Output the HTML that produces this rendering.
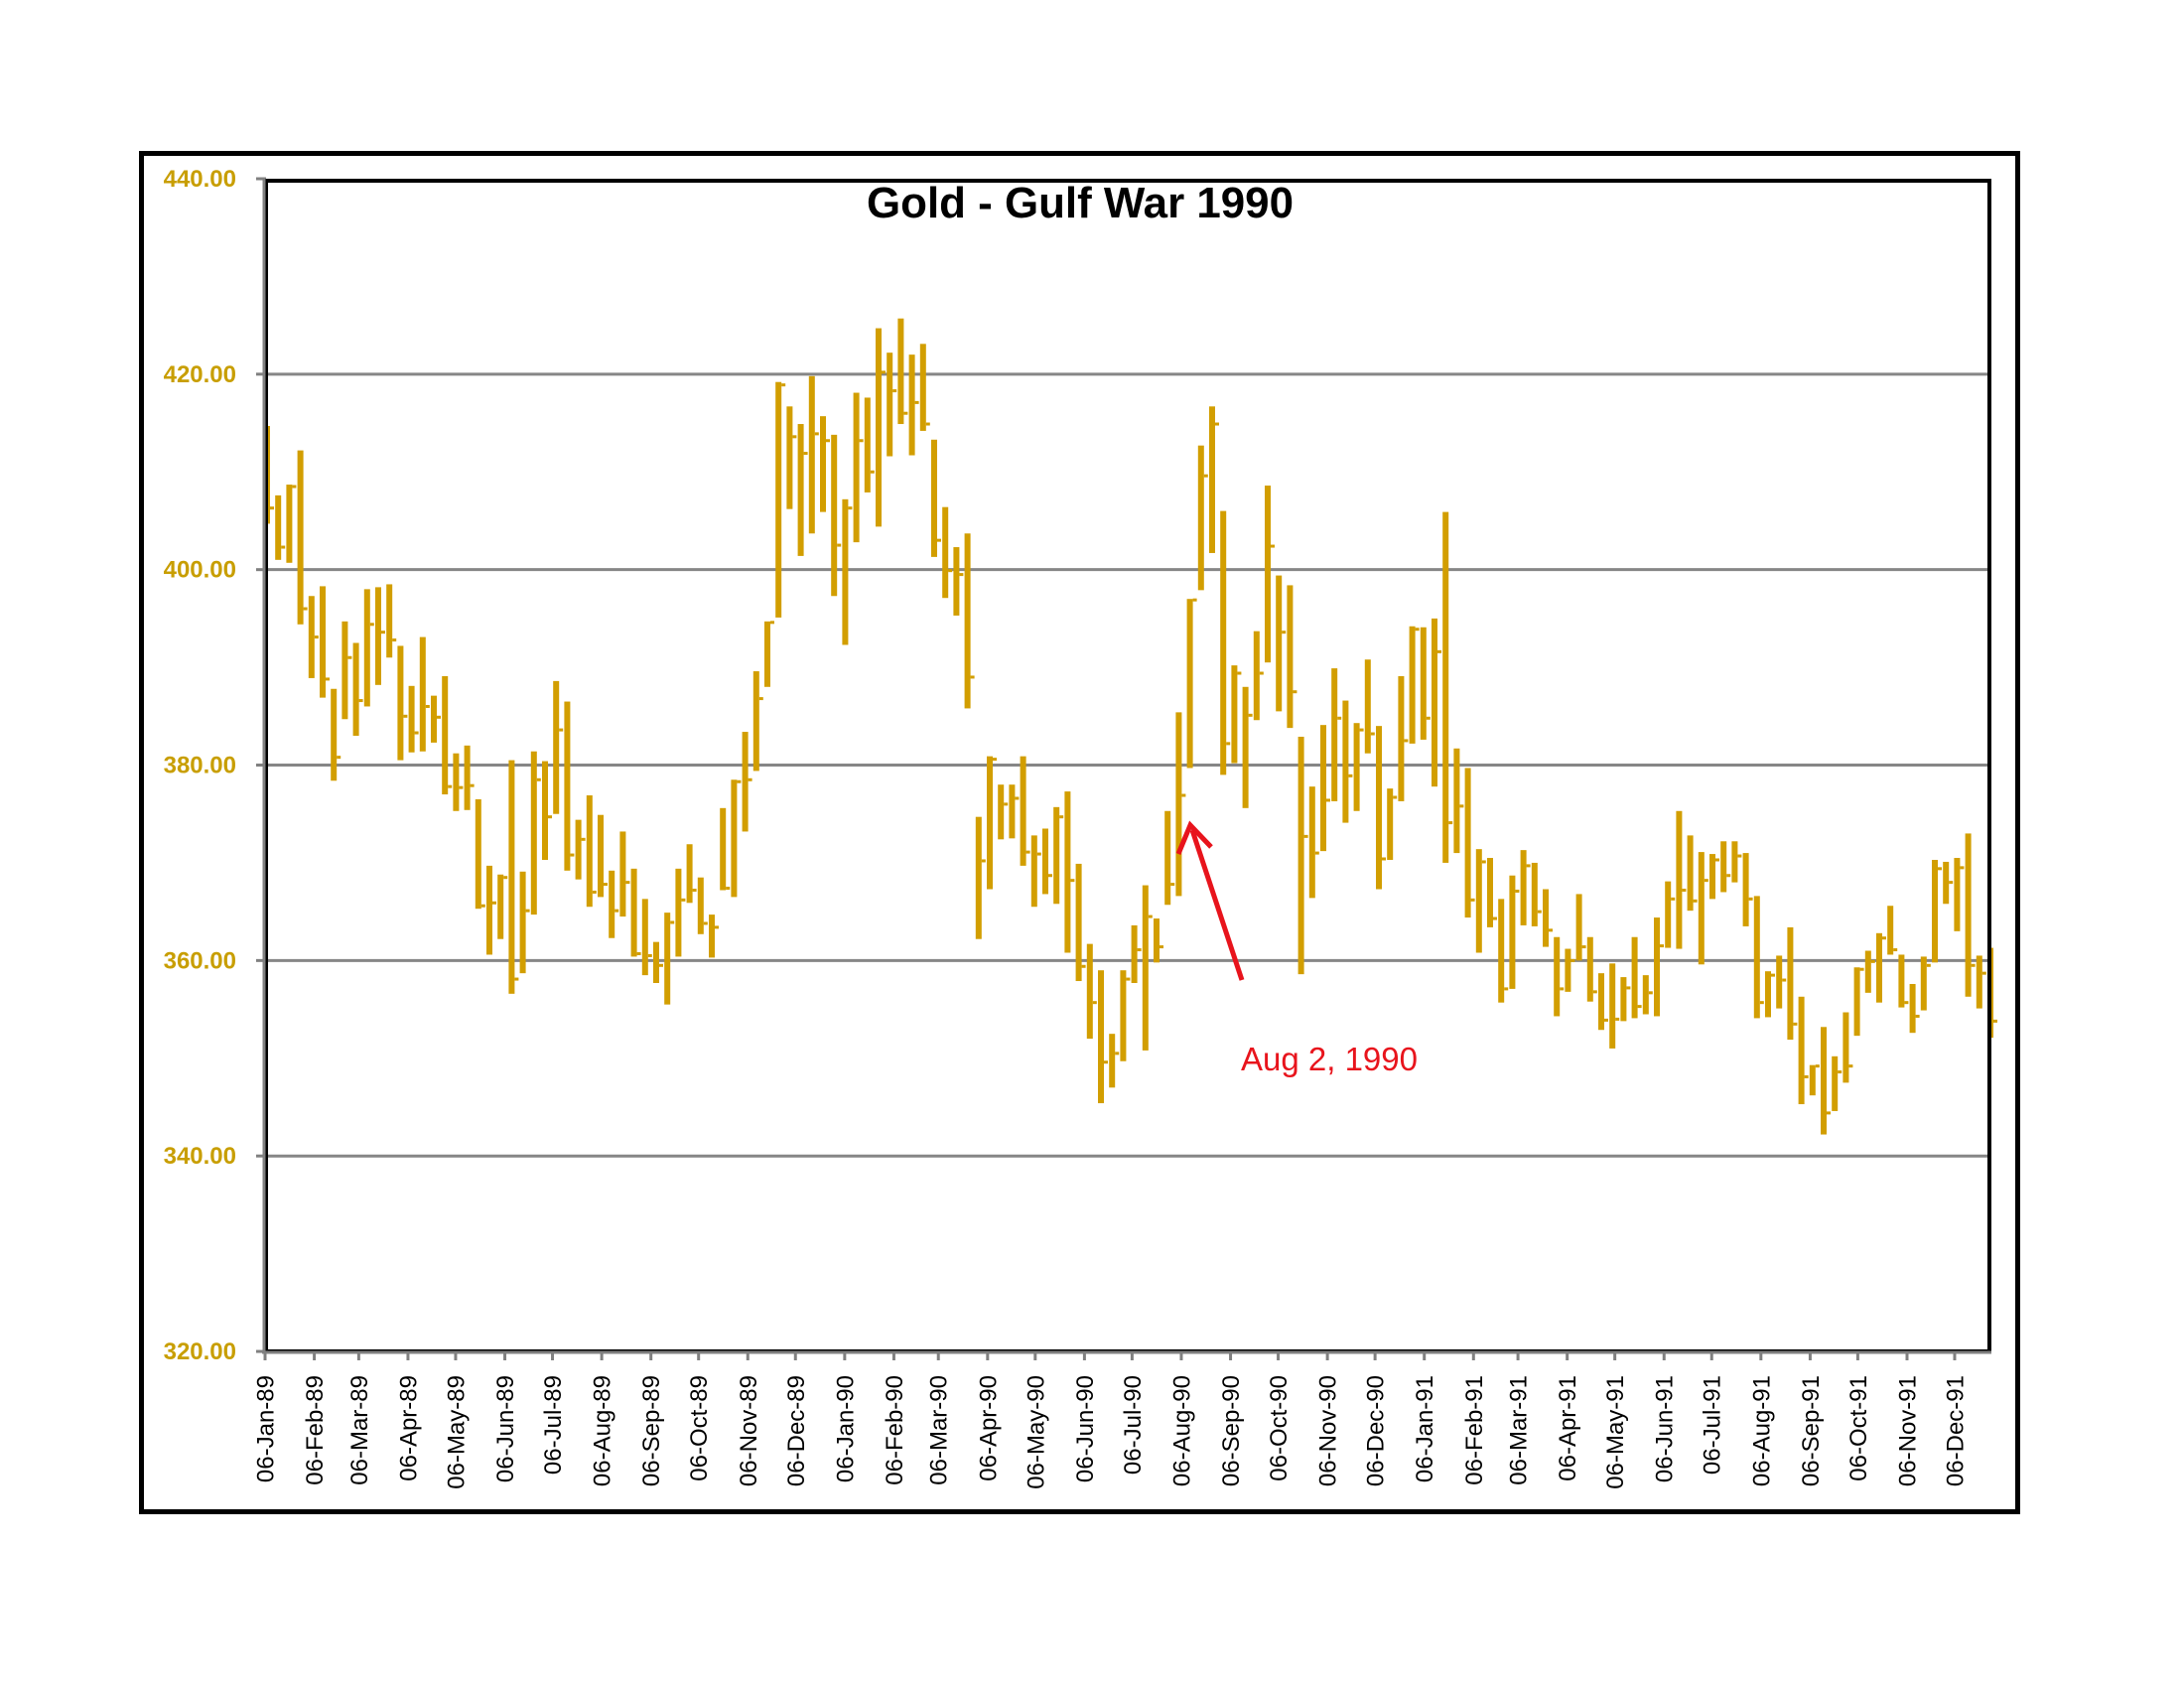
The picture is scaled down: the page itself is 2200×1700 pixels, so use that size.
<!DOCTYPE html>
<html><head><meta charset="utf-8"><style>
html,body{margin:0;padding:0;background:#fff;}
svg{display:block;}
</style></head><body>
<svg id="s" xmlns="http://www.w3.org/2000/svg" width="2200" height="1700" viewBox="0 0 2200 1700">
<rect width="2200" height="1700" fill="#fff"/>
<rect x="142.5" y="154.5" width="1890" height="1368" fill="none" stroke="#000" stroke-width="5"/>
<g id="grid"></g>
<g id="bars"></g>
<rect x="268" y="182" width="1736" height="1179" fill="none" stroke="#000" stroke-width="4"/>
<line x1="266" y1="180" x2="266" y2="1363" stroke="#808080" stroke-width="3"/>
<line x1="264" y1="1362" x2="2006" y2="1362" stroke="#808080" stroke-width="3"/>
<g id="ylab" font-family="Liberation Sans, sans-serif" font-weight="bold" font-size="24" fill="#C89E00" text-anchor="end"></g>
<g id="xlab" font-family="Liberation Sans, sans-serif" font-size="24" fill="#000" text-anchor="end"></g>
<text x="873" y="219" font-family="Liberation Sans, sans-serif" font-weight="bold" font-size="44" textLength="430" lengthAdjust="spacingAndGlyphs" fill="#000">Gold - Gulf War 1990</text>
<line x1="1251" y1="987" x2="1201" y2="836" stroke="#E8141C" stroke-width="5"/>
<polyline points="1187,860 1199,831 1220,853" fill="none" stroke="#E8141C" stroke-width="5"/>
<text x="1250" y="1078" font-family="Liberation Sans, sans-serif" font-size="33" fill="#E8141C">Aug 2, 1990</text>
</svg>
<script>
var d=[
[414.7,404.7,406.3],[407.6,401.0,402.3],[408.7,400.7,408.5],[412.2,394.4,396.0],[397.3,388.9,393.1],[398.3,386.9,388.8],[387.8,378.4,380.8],[394.7,384.7,391.0],[392.5,383.0,386.6],[398.0,386.0,394.4],
[398.2,388.2,393.6],[398.5,391.0,392.8],[392.2,380.5,385.0],[388.1,381.3,383.3],[393.1,381.4,386.0],[387.1,382.3,384.9],[389.1,377.0,377.8],[381.2,375.3,377.7],[382.0,375.4,377.9],[376.5,365.3,365.6],
[369.7,360.6,365.9],[368.8,362.2,368.5],[380.5,356.6,358.1],[369.1,358.7,365.1],[381.4,364.7,378.5],[380.4,370.3,374.7],[388.6,375.0,383.6],[386.5,369.2,370.8],[374.4,368.3,372.4],[376.9,365.5,367.0],
[374.9,366.5,367.8],[369.2,362.3,365.1],[373.2,364.5,368.0],[369.4,360.4,360.7],[366.3,358.5,360.5],[361.9,357.7,359.5],[364.9,355.5,363.9],[369.4,360.4,366.2],[371.9,365.9,367.2],[368.5,362.7,363.8],
[364.7,360.3,363.4],[375.6,367.2,367.4],[378.5,366.5,378.3],[383.4,373.2,378.5],[389.6,379.4,386.8],[394.7,388.0,394.6],[419.2,395.1,418.9],[416.7,406.2,413.6],[414.9,401.4,411.9],[419.8,403.7,413.9],
[415.7,405.9,413.2],[413.8,397.3,402.5],[407.2,392.3,406.3],[418.1,402.8,413.2],[417.6,407.9,410.0],[424.7,404.4,420.2],[422.2,411.6,418.3],[425.7,414.9,416.0],[422.0,411.7,417.1],[423.1,414.2,414.9],
[413.3,401.3,403.0],[406.4,397.1,399.9],[402.3,395.3,399.5],[403.7,385.8,389.0],[374.7,362.2,370.2],[380.9,367.3,380.6],[378.0,372.4,376.0],[378.0,372.5,376.6],[380.9,369.7,371.1],[372.8,365.5,370.9],
[373.5,366.8,368.7],[375.7,365.8,374.7],[377.3,360.8,368.2],[369.9,357.9,359.4],[361.7,352.0,355.7],[359.0,345.4,349.6],[352.5,347.0,350.5],[359.0,349.7,358.1],[363.6,357.7,361.1],[367.7,350.8,364.5],
[364.3,359.8,361.4],[375.3,365.7,367.8],[385.4,366.6,376.9],[397.0,379.7,396.9],[412.7,397.9,409.6],[416.7,401.7,414.9],[406.0,379.0,382.2],[390.2,380.2,389.4],[388.0,375.6,385.1],[393.7,384.6,389.4],
[408.6,390.5,402.4],[399.4,385.5,393.6],[398.4,383.8,387.5],[382.9,358.6,372.7],[377.8,366.4,371.0],[384.1,371.2,376.4],[389.9,376.3,384.8],[386.6,374.1,378.9],[384.3,375.3,383.6],[390.8,381.2,383.2],
[384.0,367.3,370.4],[377.6,370.3,376.7],[389.1,376.3,382.5],[394.2,382.2,393.9],[394.1,382.6,384.8],[395.0,377.8,391.6],[405.9,370.0,374.1],[381.7,371.0,375.8],[379.7,364.4,366.2],[371.4,360.8,370.1],
[370.5,363.4,364.3],[366.3,355.7,357.1],[368.7,357.1,367.1],[371.3,363.6,369.7],[370.0,363.5,365.0],[367.3,361.4,363.1],[362.4,354.3,357.1],[361.2,356.8,360.0],[366.8,360.0,361.4],[362.4,355.8,356.8],
[358.7,352.9,353.9],[359.7,351.0,354.0],[358.3,353.8,357.2],[362.4,354.1,355.3],[358.5,354.5,356.7],[364.4,354.3,361.5],[368.1,361.3,366.3],[375.3,361.2,367.2],[372.8,365.1,366.1],[371.1,359.6,368.2],
[370.9,366.3,370.3],[372.2,367.0,368.7],[372.2,368.0,370.7],[371.0,363.5,366.3],[366.6,354.1,355.7],[358.9,354.2,358.5],[360.5,355.1,358.0],[363.4,351.9,353.5],[356.3,345.3,348.1],[349.3,346.2,349.2],
[353.2,342.2,344.4],[350.2,344.6,348.6],[354.7,347.5,349.2],[359.3,352.3,359.1],[361.0,356.7,359.9],[362.8,355.7,362.3],[365.6,360.6,361.1],[360.6,355.2,355.7],[357.6,352.6,354.3],[360.4,354.9,359.5],
[370.3,359.8,369.4],[370.1,365.8,368.0],[370.5,363.0,369.5],[373.0,356.3,359.5],[360.5,355.1,358.7],[361.3,352.1,353.8]];
var NS="http://www.w3.org/2000/svg";
function Y(v){return 180+(440-v)*9.842;}
function el(p,t,a,txt){var e=document.createElementNS(NS,t);for(var k in a)e.setAttribute(k,a[k]);if(txt!=null)e.textContent=txt;document.getElementById(p).appendChild(e);}
for(var v=320;v<=440;v+=20){var y=Y(v);
 if(v>320&&v<440)el("grid","line",{x1:268,y1:y,x2:2004,y2:y,stroke:"#868686","stroke-width":3});
 el("grid","line",{x1:258,y1:y,x2:268,y2:y,stroke:"#808080","stroke-width":3});
 el("ylab","text",{x:238,y:y+8},v.toFixed(2));}
for(var i=0;i<d.length;i++){var x=269+11.2*i;var b=d[i];
 var x0=Math.max(x-3,268);
 el("bars","rect",{x:x0,y:Y(b[0]),width:(x+3)-x0,height:Y(b[1])-Y(b[0]),fill:"#D29E00"});
 el("bars","rect",{x:x+3,y:Y(b[2])-1.5,width:4,height:3,fill:"#D29E00"});}
var mon=["Jan","Feb","Mar","Apr","May","Jun","Jul","Aug","Sep","Oct","Nov","Dec"];
var t0=Date.UTC(1989,0,6);
for(var m=0;m<36;m++){var yr=1989+Math.floor(m/12);var t=Date.UTC(yr,m%12,6);
 var x=267+(t-t0)/86400000*1.5996;
 el("grid","line",{x1:x,y1:1362,x2:x,y2:1370,stroke:"#808080","stroke-width":3});
 el("xlab","text",{x:0,y:0,transform:"translate("+(x+8.5)+",1385) rotate(-90)"},"06-"+mon[m%12]+"-"+String(yr).slice(2));}
</script>
</body></html>
